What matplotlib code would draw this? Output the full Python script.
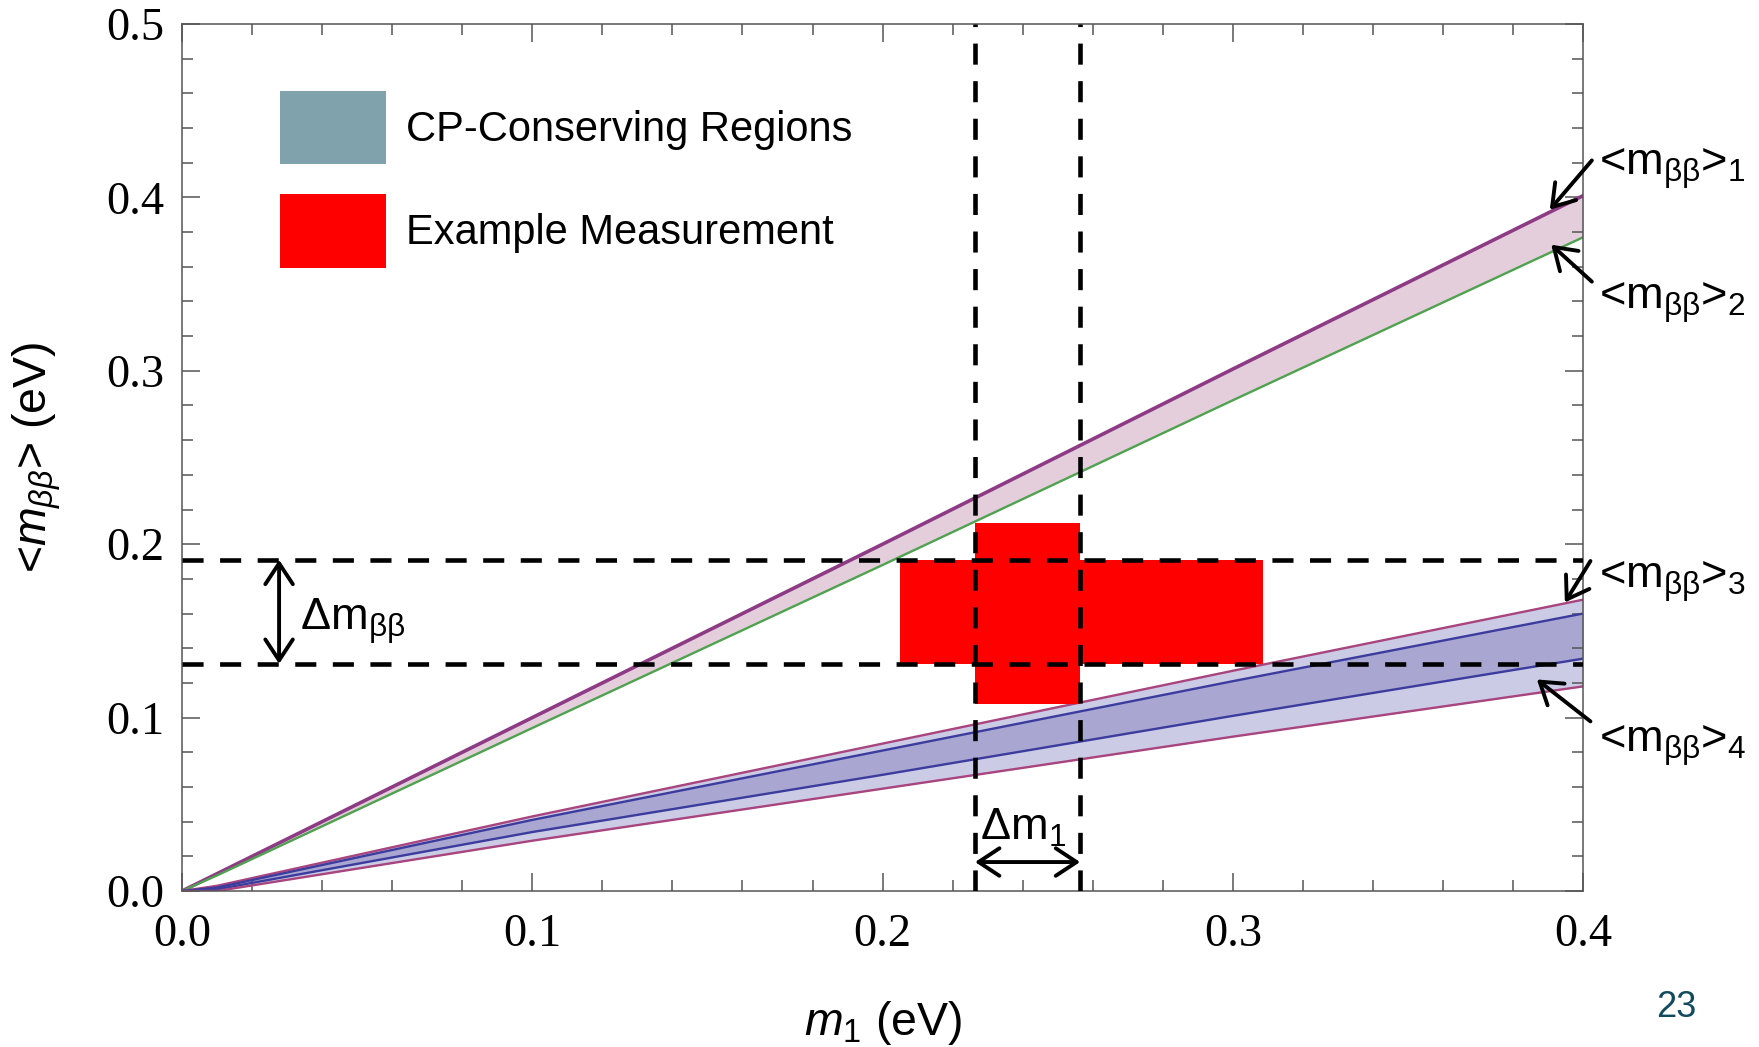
import numpy as np
import matplotlib
matplotlib.use("Agg")
import matplotlib.pyplot as plt
from matplotlib.patches import Patch
from matplotlib.ticker import MultipleLocator

plt.rcParams['mathtext.fontset'] = 'custom'
plt.rcParams['mathtext.rm'] = 'Liberation Sans'
plt.rcParams['mathtext.it'] = 'Liberation Sans:italic'
plt.rcParams['mathtext.bf'] = 'Liberation Sans:bold'

# lightest neutrino mass grid (eV)
m1 = [0.0, 0.01, 0.1, 0.2, 0.3, 0.4]

# upper band (<m_bb>_1 and <m_bb>_2)
mbb_1 = [0.0, 0.010, 0.100, 0.200, 0.301, 0.401]
mbb_2 = [0.0, 0.009, 0.094, 0.188, 0.283, 0.377]

# lower band: outer lines (<m_bb>_3, <m_bb>_4) and inner blue lines
mbb_3 = [0.0, 0.003, 0.043, 0.085, 0.127, 0.168]
inner_top = [0.0, 0.002, 0.041, 0.081, 0.121, 0.160]
inner_bot = [0.0, 0.001, 0.034, 0.067, 0.101, 0.134]
mbb_4 = [0.0, 0.000, 0.029, 0.059, 0.089, 0.118]

# example measurement
dm1_range = [0.2264, 0.2564]       # vertical dashed lines / delta m1
dmbb_range = [0.131, 0.191]        # horizontal dashed lines / delta m_bb
meas_wide_x = [0.205, 0.3086]      # wide part of the red cross
meas_tall_y = [0.108, 0.212]       # tall part of the red cross

curve_labels = ['1', '2', '3', '4']
label_pos = [(0.4045, 0.413), (0.4045, 0.3355), (0.4045, 0.175), (0.4045, 0.080)]
arrow_tail = [(0.4025, 0.4213), (0.4025, 0.3514), (0.4021, 0.1903), (0.4021, 0.0978)]
arrow_tip = [(0.3905, 0.3929), (0.3909, 0.3727), (0.3948, 0.1664), (0.3868, 0.1220)]

fig = plt.figure(figsize=(17.59, 10.47), dpi=100)
ax = fig.add_axes([0.1035, 0.149, 0.7965, 0.8281])

# bands
ax.fill_between(m1, mbb_2, mbb_1, color='#e4cedb', lw=0, zorder=1)
ax.fill_between(m1, mbb_4, mbb_3, color='#cccbe6', lw=0, zorder=1)
ax.fill_between(m1, inner_bot, inner_top, color='#a9a7d1', lw=0, zorder=1)
ax.plot(m1, mbb_1, color='#8e3b86', lw=2.6, zorder=2)
ax.plot(m1, mbb_2, color='#4fa24f', lw=1.7, zorder=2)
ax.plot(m1, mbb_3, color='#a8447e', lw=1.7, zorder=2)
ax.plot(m1, inner_top, color='#3c3c9e', lw=1.7, zorder=2)
ax.plot(m1, inner_bot, color='#3c3c9e', lw=1.7, zorder=2)
ax.plot(m1, mbb_4, color='#a8447e', lw=1.7, zorder=2)

# red cross
ax.fill_between(meas_wide_x, dmbb_range[0], dmbb_range[1], color='red', lw=0, zorder=3)
ax.fill_between(dm1_range, meas_tall_y[0], meas_tall_y[1], color='red', lw=0, zorder=3)

# dashed lines
for yv in dmbb_range:
    ax.axhline(yv, color='black', lw=3.3, ls=(0, (4.6, 3.6)), zorder=4)
for xv in dm1_range:
    ax.axvline(xv, color='black', lw=3.3, ls=(0, (4.6, 3.6)), zorder=4)

# delta arrows
arr = dict(arrowstyle='<->,head_length=0.5,head_width=0.33', lw=2.8, color='black',
           shrinkA=0, shrinkB=0, mutation_scale=30)
ax.annotate('', xy=(0.0277, dmbb_range[1]), xytext=(0.0277, dmbb_range[0]),
            arrowprops=arr, zorder=5)
ax.annotate('', xy=(dm1_range[0], 0.0167), xytext=(dm1_range[1], 0.0167),
            arrowprops=arr, zorder=5)
ax.text(0.0337, 0.1505, r'Δm$_{\mathregular{\beta\beta}}$', fontsize=32.5,
        family='Liberation Sans', ha='left', va='baseline', zorder=5)
ax.text(0.2278, 0.0294, r'Δm$_{\mathregular{1}}$', fontsize=32.5,
        family='Liberation Sans', ha='left', va='baseline', zorder=5)

# curve labels on the right
for lab, pos, tail, tip in zip(curve_labels, label_pos, arrow_tail, arrow_tip):
    ax.text(pos[0], pos[1], r'<m$_{\mathregular{\beta\beta}}$>$_{\mathregular{%s}}$' % lab,
            fontsize=32.5, family='Liberation Sans', ha='left', va='baseline', clip_on=False)
    ax.annotate('', xy=tip, xytext=tail, annotation_clip=False,
                arrowprops=dict(arrowstyle='->,head_length=0.5,head_width=0.33', lw=2.8,
                                color='black', shrinkA=0, shrinkB=0, mutation_scale=30))

# legend
handles = [Patch(facecolor='#80a2ac', edgecolor='none', label='CP-Conserving Regions'),
           Patch(facecolor='red', edgecolor='none', label='Example Measurement')]
leg = ax.legend(handles=handles, loc='upper left', bbox_to_anchor=(0.070, 0.9227),
                frameon=False, prop={'family': 'Liberation Sans', 'size': 30},
                handlelength=2.54, handleheight=2.33, labelspacing=0.72,
                handletextpad=0.48, borderpad=0, borderaxespad=0)

ax.set_xlim(0, 0.4)
ax.set_ylim(0, 0.5)
ax.xaxis.set_major_locator(MultipleLocator(0.1))
ax.xaxis.set_minor_locator(MultipleLocator(0.02))
ax.yaxis.set_major_locator(MultipleLocator(0.1))
ax.yaxis.set_minor_locator(MultipleLocator(0.02))
ax.tick_params(which='both', direction='in', top=True, right=True, color='#555555')
ax.tick_params(which='major', length=13, width=1.1)
ax.tick_params(which='minor', length=8, width=1.1)
ax.tick_params(axis='x', pad=16)
ax.tick_params(axis='y', pad=13)
for lbl in ax.get_xticklabels() + ax.get_yticklabels():
    lbl.set_family('Liberation Serif')
    lbl.set_fontsize(33.5)
for sp in ax.spines.values():
    sp.set_color('#555555')
    sp.set_linewidth(1.1)

ax.set_xlabel(r'$m_1$ (eV)', fontsize=33.5, family='Liberation Sans')
ax.set_ylabel(r'<$m_{\mathit{\beta\beta}}$> (eV)', fontsize=33.5, family='Liberation Sans')
ax.xaxis.set_label_coords(0.5, -0.124)
ax.yaxis.set_label_coords(-0.085, 0.5)

fig.text(0.9528, 0.0382, '23', fontsize=26, color='#104a5e', family='Liberation Sans',
         ha='center', va='center')

fig.savefig('out.png', dpi=100)
